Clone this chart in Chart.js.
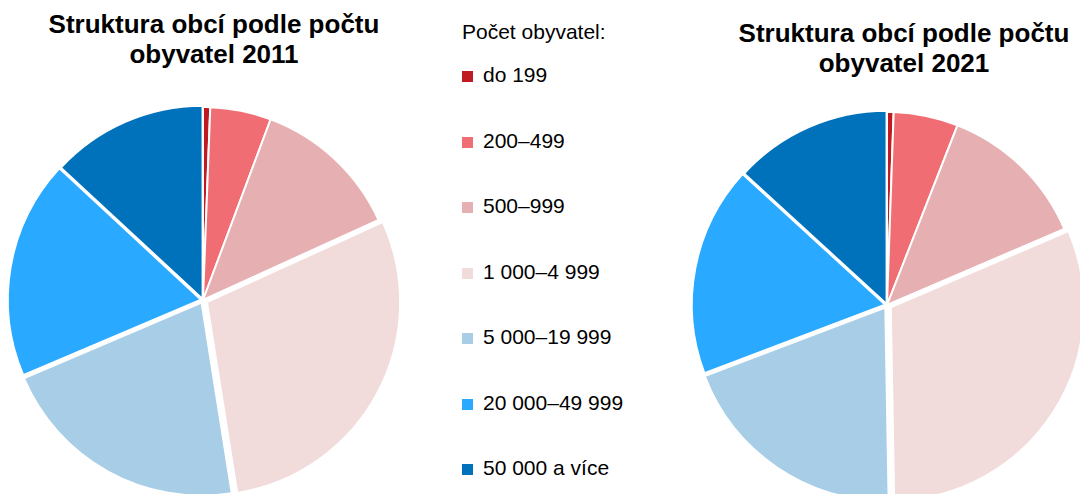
<!DOCTYPE html>
<html lang="cs">
<head>
<meta charset="utf-8">
<script src="https://cdn.jsdelivr.net/npm/chart.js@4"></script>
<style>
  html, body { margin: 0; padding: 0; background: #fff; overflow: hidden; }
  body { width: 1080px; height: 494px; position: relative; font-family: "Liberation Sans", Arial, sans-serif; color: #000; }
  .title { position: absolute; font-weight: bold; font-size: 26px; line-height: 30px; text-align: center; white-space: nowrap; }
  .box { position: absolute; width: 440px; height: 440px; }
  .lg { position: absolute; font-size: 21px; line-height: 21px; white-space: nowrap; }
  .sw { position: absolute; width: 11px; height: 11px; }
</style>
</head>
<body>
<div class="title" id="t1" style="left:14px; width:400px; top:9px;"></div>
<div class="title" id="t2" style="left:704px; width:400px; top:18px;"></div>
<div class="box" style="left:-17px; top:80px;"><canvas id="c1" width="440" height="440"></canvas></div>
<div class="box" style="left:667px; top:85px;"><canvas id="c2" width="440" height="440"></canvas></div>
<div id="legend"></div>
<script>
const categories = ['do 199', '200–499', '500–999', '1 000–4 999', '5 000–19 999', '20 000–49 999', '50 000 a více'];
const values2011 = [0.6, 5.1, 12.5, 29.3, 21.1, 18.3, 13.1];
const values2021 = [0.55, 5.4, 12.6, 31.2, 19.5, 17.6, 13.2];
const colors = ['#C01A22', '#F06E73', '#E6AFB2', '#F1DBDB', '#A7CDE7', '#29A9FF', '#0072BC'];
const titles = ['Struktura obcí podle počtu\nobyvatel 2011', 'Struktura obcí podle počtu\nobyvatel 2021'];
const legendTitle = 'Počet obyvatel:';

function setTitle(id, text) {
  const el = document.getElementById(id);
  text.split('\n').forEach((line, i) => {
    if (i) el.appendChild(document.createElement('br'));
    el.appendChild(document.createTextNode(line));
  });
}
setTitle('t1', titles[0]);
setTitle('t2', titles[1]);

// legend
const lg = document.getElementById('legend');
const head = document.createElement('div');
head.className = 'lg';
head.style.left = '462px';
head.style.top = '21px';
head.textContent = legendTitle;
lg.appendChild(head);
categories.forEach((c, i) => {
  const base = 82 + i * 65.5;
  const sw = document.createElement('div');
  sw.className = 'sw';
  sw.style.left = '462px';
  sw.style.top = (base - 11) + 'px';
  sw.style.background = colors[i];
  lg.appendChild(sw);
  const t = document.createElement('div');
  t.className = 'lg';
  t.style.left = '483px';
  t.style.top = (base - 17.8) + 'px';
  t.textContent = c;
  lg.appendChild(t);
});

function makePie(id, values, offsets) {
  return new Chart(document.getElementById(id), {
    type: 'pie',
    data: {
      labels: categories,
      datasets: [{
        data: values,
        backgroundColor: colors,
        borderColor: '#ffffff',
        borderWidth: 2,
        offset: offsets
      }]
    },
    options: {
      responsive: false,
      animation: false,
      radius: 193,
      layout: { padding: 0 },
      plugins: { legend: { display: false }, title: { display: false }, tooltip: { enabled: false } }
    }
  });
}
makePie('c1', values2011, [0, 0, 0, 18, 12, 8, 4]);
makePie('c2', values2021, [0, 0, 0, 18, 12, 8, 4]);
</script>
</body>
</html>
